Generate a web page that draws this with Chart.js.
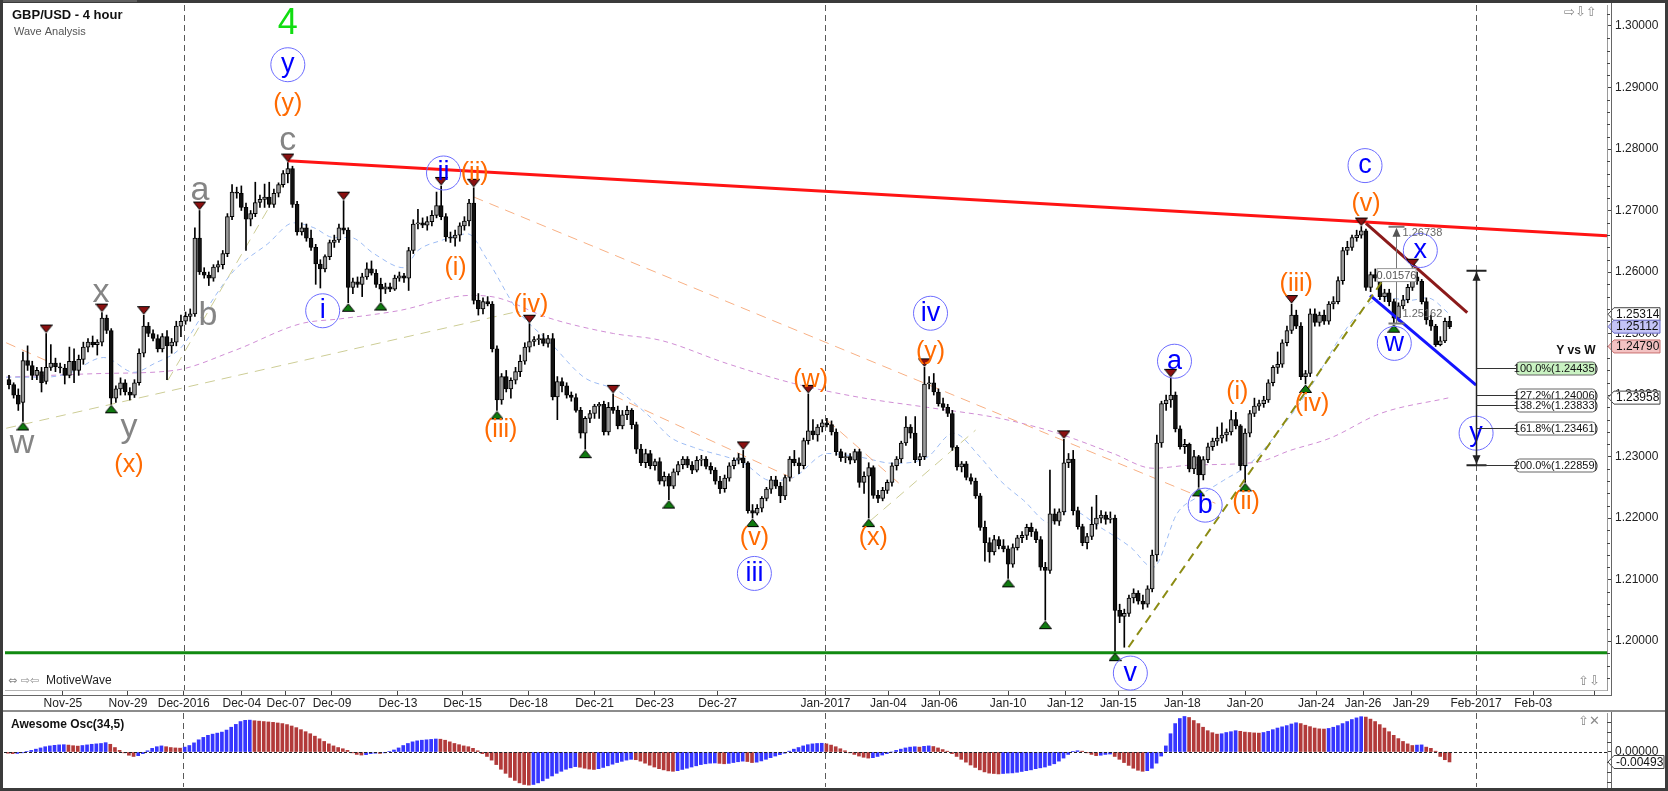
<!DOCTYPE html>
<html>
<head>
<meta charset="utf-8">
<title>GBP/USD - 4 hour</title>
<script src="https://cdn.jsdelivr.net/npm/chart.js@4.4.1/dist/chart.umd.min.js"></script>
<style>
  body { margin: 0; background: #fff; }
  #wrap { position: relative; width: 1668px; height: 791px; overflow: hidden; background: #fff; }
  #priceChart { position: absolute; left: 0; top: 0; }
  #oscChart { position: absolute; left: 0; top: 712px; }
</style>
</head>
<body>
<div id="wrap">
  <canvas id="priceChart" width="1668" height="712"></canvas>
  <canvas id="oscChart" width="1668" height="79"></canvas>
</div>
<script>
// 4-hour bars, index 0 = first bar on the left
const opens = [
  1.2425,1.2417,1.2400,1.2388,1.2456,1.2448,1.2432,1.2438,1.2422,1.2445,
  1.2452,1.2446,1.2444,1.2432,1.2455,1.2440,1.2458,1.2478,1.2486,1.2482,
  1.2486,1.2525,1.2505,1.2395,1.2410,1.2420,1.2405,1.2400,1.2420,1.2468,
  1.2512,1.2500,1.2492,1.2475,1.2495,1.2480,1.2486,1.2512,1.2520,1.2528,
  1.2532,1.2655,1.2600,1.2595,1.2590,1.2608,1.2612,1.2630,1.2690,1.2730,
  1.2728,1.2705,1.2686,1.2695,1.2713,1.2718,1.2722,1.2710,1.2728,1.2742,
  1.2760,1.2768,1.2710,1.2665,1.2672,1.2655,1.2640,1.2613,1.2605,1.2625,
  1.2648,1.2652,1.2672,1.2668,1.2575,1.2584,1.2580,1.2592,1.2605,1.2598,
  1.2580,1.2572,1.2576,1.2572,1.2590,1.2594,1.2590,1.2635,1.2678,1.2680,
  1.2676,1.2682,1.2692,1.2708,1.2690,1.2657,1.2655,1.2660,1.2675,1.2683,
  1.2712,1.2554,1.2540,1.2552,1.2548,1.2475,1.2392,1.2430,1.2410,1.2424,
  1.2438,1.2455,1.2478,1.2487,1.2490,1.2492,1.2484,1.2492,1.2397,1.2422,
  1.2415,1.2400,1.2396,1.2375,1.2338,1.2362,1.2370,1.2382,1.2385,1.2340,
  1.2380,1.2375,1.2350,1.2368,1.2375,1.2352,1.2312,1.2290,1.2305,1.2285,
  1.2292,1.2260,1.2268,1.2252,1.2275,1.2287,1.2296,1.2286,1.2278,1.2294,
  1.2296,1.2284,1.2278,1.2260,1.2248,1.2265,1.2285,1.2294,1.2298,1.2290,
  1.2212,1.2208,1.2216,1.2232,1.2247,1.2262,1.2252,1.2236,1.2266,1.2296,
  1.2290,1.2285,1.2326,1.2342,1.2335,1.2348,1.2355,1.2352,1.2340,1.2308,
  1.2298,1.2300,1.2294,1.2308,1.2258,1.2268,1.2282,1.2237,1.2232,1.2245,
  1.2258,1.2285,1.2296,1.2322,1.2348,1.2338,1.2295,1.2300,1.2418,1.2420,
  1.2405,1.2386,1.2380,1.2370,1.2315,1.2283,1.2288,1.2266,1.2260,1.2236,
  1.2185,1.2160,1.2145,1.2165,1.2155,1.2150,1.2125,1.2152,1.2168,1.2172,
  1.2185,1.2178,1.2165,1.2120,1.2115,1.2207,1.2195,1.2210,1.2290,1.2296,
  1.2212,1.2186,1.2160,1.2170,1.2190,1.2200,1.2205,1.2198,1.2200,1.2050,
  1.2040,1.2045,1.2070,1.2078,1.2065,1.2060,1.2085,1.2140,1.2322,1.2386,
  1.2392,1.2400,1.2345,1.2316,1.2320,1.2280,1.2300,1.2270,1.2295,1.2316,
  1.2325,1.2330,1.2335,1.2340,1.2360,1.2350,1.2285,1.2338,1.2370,1.2382,
  1.2386,1.2392,1.2420,1.2445,1.2450,1.2485,1.2505,1.2530,1.2512,1.2430,
  1.2435,1.2532,1.2518,1.2530,1.2520,1.2548,1.2552,1.2586,1.2635,1.2640,
  1.2656,1.2660,1.2667,1.2575,1.2596,1.2590,1.2560,1.2566,1.2552,1.2525,
  1.2545,1.2555,1.2575,1.2592,1.2585,1.2552,1.2522,1.2512,1.2482,1.2488,1.2520
];
const highs = [
  1.2432,1.2420,1.2410,1.2470,1.2480,1.2455,1.2445,1.2445,1.2500,1.2482,
  1.2460,1.2452,1.2450,1.2478,1.2475,1.2465,1.2486,1.2492,1.2496,1.2490,
  1.2534,1.2530,1.2508,1.2415,1.2428,1.2425,1.2412,1.2425,1.2475,1.2530,
  1.2518,1.2506,1.2498,1.2500,1.2505,1.2492,1.2520,1.2530,1.2535,1.2540,
  1.2672,1.2700,1.2607,1.2600,1.2612,1.2618,1.2635,1.2695,1.2742,1.2738,
  1.2740,1.2712,1.2700,1.2746,1.2725,1.2743,1.2746,1.2735,1.2745,1.2765,
  1.2778,1.2772,1.2715,1.2680,1.2678,1.2668,1.2645,1.2620,1.2628,1.2652,
  1.2660,1.2678,1.2716,1.2672,1.2590,1.2592,1.2598,1.2615,1.2618,1.2604,
  1.2590,1.2582,1.2582,1.2595,1.2600,1.2598,1.2640,1.2685,1.2702,1.2688,
  1.2690,1.2700,1.2730,1.2740,1.2695,1.2665,1.2668,1.2680,1.2690,1.2718,
  1.2737,1.2565,1.2558,1.2560,1.2552,1.2480,1.2435,1.2440,1.2428,1.2445,
  1.2465,1.2485,1.2516,1.2495,1.2498,1.2500,1.2497,1.2500,1.2430,1.2428,
  1.2420,1.2405,1.2402,1.2380,1.2365,1.2375,1.2385,1.2388,1.2390,1.2388,
  1.2402,1.2382,1.2375,1.2382,1.2378,1.2356,1.2320,1.2312,1.2310,1.2296,
  1.2298,1.2275,1.2272,1.2280,1.2292,1.2300,1.2300,1.2292,1.2300,1.2302,
  1.2300,1.2290,1.2282,1.2268,1.2270,1.2290,1.2298,1.2305,1.2310,1.2292,
  1.2222,1.2222,1.2235,1.2250,1.2268,1.2268,1.2258,1.2270,1.2300,1.2310,
  1.2298,1.2330,1.2402,1.2360,1.2352,1.2360,1.2362,1.2358,1.2345,1.2312,
  1.2306,1.2305,1.2312,1.2312,1.2275,1.2290,1.2285,1.2245,1.2250,1.2262,
  1.2290,1.2300,1.2325,1.2365,1.2352,1.2365,1.2305,1.2445,1.2430,1.2435,
  1.2410,1.2395,1.2385,1.2375,1.2318,1.2292,1.2292,1.2272,1.2265,1.2240,
  1.2195,1.2168,1.2172,1.2170,1.2165,1.2155,1.2158,1.2172,1.2178,1.2190,
  1.2192,1.2182,1.2170,1.2128,1.2278,1.2215,1.2215,1.2328,1.2305,1.2310,
  1.2218,1.2190,1.2175,1.2218,1.2237,1.2212,1.2210,1.2210,1.2205,1.2060,
  1.2052,1.2075,1.2085,1.2082,1.2075,1.2090,1.2148,1.2335,1.2390,1.2400,
  1.2428,1.2405,1.2350,1.2328,1.2322,1.2310,1.2302,1.2300,1.2322,1.2330,
  1.2348,1.2355,1.2345,1.2375,1.2372,1.2352,1.2345,1.2375,1.2395,1.2392,
  1.2398,1.2425,1.2448,1.2470,1.2490,1.2512,1.2548,1.2538,1.2518,1.2440,
  1.2540,1.2540,1.2535,1.2538,1.2552,1.2560,1.2592,1.2640,1.2650,1.2660,
  1.2668,1.2674,1.2670,1.2600,1.2605,1.2595,1.2572,1.2572,1.2556,1.2550,
  1.2562,1.2580,1.2607,1.2600,1.2588,1.2558,1.2530,1.2515,1.2495,1.2525,1.2528
];
const lows = [
  1.2410,1.2395,1.2375,1.2357,1.2440,1.2425,1.2425,1.2405,1.2418,1.2440,
  1.2438,1.2436,1.2418,1.2428,1.2420,1.2432,1.2450,1.2470,1.2478,1.2465,
  1.2480,1.2500,1.2385,1.2388,1.2400,1.2400,1.2392,1.2396,1.2416,1.2462,
  1.2495,1.2488,1.2470,1.2470,1.2425,1.2468,1.2480,1.2495,1.2515,1.2520,
  1.2528,1.2596,1.2590,1.2578,1.2585,1.2600,1.2605,1.2625,1.2685,1.2720,
  1.2700,1.2635,1.2675,1.2690,1.2705,1.2705,1.2705,1.2705,1.2722,1.2738,
  1.2745,1.2705,1.2660,1.2660,1.2650,1.2635,1.2580,1.2574,1.2600,1.2620,
  1.2640,1.2648,1.2662,1.2550,1.2565,1.2575,1.2560,1.2588,1.2595,1.2575,
  1.2552,1.2565,1.2568,1.2570,1.2585,1.2583,1.2570,1.2630,1.2670,1.2672,
  1.2668,1.2675,1.2688,1.2685,1.2650,1.2648,1.2642,1.2650,1.2668,1.2675,
  1.2548,1.2530,1.2532,1.2545,1.2470,1.2375,1.2385,1.2405,1.2395,1.2418,
  1.2430,1.2450,1.2470,1.2480,1.2482,1.2480,1.2478,1.2392,1.2360,1.2405,
  1.2395,1.2390,1.2372,1.2330,1.2312,1.2355,1.2362,1.2362,1.2335,1.2335,
  1.2370,1.2345,1.2345,1.2360,1.2345,1.2305,1.2285,1.2282,1.2280,1.2278,
  1.2255,1.2252,1.2230,1.2248,1.2270,1.2280,1.2282,1.2272,1.2275,1.2285,
  1.2280,1.2272,1.2255,1.2240,1.2242,1.2260,1.2280,1.2288,1.2282,1.2208,
  1.2200,1.2205,1.2210,1.2228,1.2240,1.2248,1.2225,1.2230,1.2260,1.2285,
  1.2272,1.2280,1.2320,1.2328,1.2325,1.2340,1.2348,1.2335,1.2302,1.2292,
  1.2290,1.2288,1.2290,1.2250,1.2240,1.2200,1.2232,1.2225,1.2228,1.2240,
  1.2252,1.2278,1.2290,1.2318,1.2330,1.2290,1.2285,1.2295,1.2410,1.2400,
  1.2382,1.2375,1.2365,1.2310,1.2278,1.2275,1.2262,1.2255,1.2232,1.2180,
  1.2130,1.2128,1.2140,1.2150,1.2145,1.2102,1.2120,1.2148,1.2160,1.2165,
  1.2170,1.2160,1.2115,1.2034,1.2110,1.2190,1.2188,1.2205,1.2282,1.2205,
  1.2182,1.2155,1.2150,1.2165,1.2182,1.2192,1.2190,1.2192,1.1982,1.2030,
  1.1990,1.2040,1.2062,1.2060,1.2052,1.2055,1.2080,1.2130,1.2315,1.2375,
  1.2380,1.2340,1.2312,1.2305,1.2275,1.2272,1.2250,1.2262,1.2290,1.2310,
  1.2318,1.2322,1.2325,1.2335,1.2345,1.2278,1.2258,1.2332,1.2365,1.2375,
  1.2380,1.2388,1.2415,1.2435,1.2445,1.2480,1.2500,1.2508,1.2425,1.2418,
  1.2430,1.2512,1.2512,1.2515,1.2515,1.2540,1.2548,1.2580,1.2628,1.2635,
  1.2650,1.2655,1.2570,1.2568,1.2585,1.2555,1.2552,1.2545,1.2516,1.2520,
  1.2540,1.2550,1.2570,1.2580,1.2548,1.2515,1.2505,1.2479,1.2480,1.2485,1.2508
];
const closes = [
  1.2417,1.2400,1.2385,1.2456,1.2448,1.2432,1.2440,1.2420,1.2445,1.2452,
  1.2446,1.2444,1.2432,1.2455,1.2440,1.2458,1.2478,1.2486,1.2482,1.2486,
  1.2525,1.2505,1.2395,1.2410,1.2420,1.2405,1.2400,1.2420,1.2468,1.2512,
  1.2500,1.2492,1.2475,1.2495,1.2480,1.2486,1.2512,1.2520,1.2528,1.2532,
  1.2655,1.2600,1.2595,1.2590,1.2608,1.2612,1.2630,1.2690,1.2730,1.2728,
  1.2705,1.2686,1.2695,1.2713,1.2718,1.2722,1.2710,1.2728,1.2742,1.2760,
  1.2768,1.2710,1.2665,1.2672,1.2655,1.2640,1.2613,1.2605,1.2625,1.2648,
  1.2652,1.2672,1.2668,1.2575,1.2584,1.2580,1.2592,1.2605,1.2598,1.2580,
  1.2572,1.2576,1.2572,1.2590,1.2594,1.2590,1.2635,1.2678,1.2680,1.2676,
  1.2682,1.2692,1.2708,1.2690,1.2657,1.2655,1.2660,1.2675,1.2683,1.2712,
  1.2554,1.2540,1.2552,1.2548,1.2475,1.2392,1.2430,1.2410,1.2424,1.2438,
  1.2455,1.2478,1.2487,1.2490,1.2492,1.2484,1.2492,1.2397,1.2422,1.2415,
  1.2400,1.2396,1.2375,1.2338,1.2362,1.2370,1.2382,1.2385,1.2340,1.2380,
  1.2375,1.2350,1.2368,1.2375,1.2352,1.2312,1.2290,1.2305,1.2285,1.2292,
  1.2260,1.2268,1.2252,1.2275,1.2287,1.2296,1.2286,1.2278,1.2294,1.2296,
  1.2284,1.2278,1.2260,1.2248,1.2265,1.2285,1.2294,1.2298,1.2290,1.2212,
  1.2208,1.2216,1.2232,1.2247,1.2262,1.2252,1.2236,1.2266,1.2296,1.2290,
  1.2285,1.2326,1.2342,1.2335,1.2348,1.2355,1.2352,1.2340,1.2308,1.2298,
  1.2300,1.2294,1.2308,1.2258,1.2268,1.2282,1.2237,1.2232,1.2245,1.2258,
  1.2285,1.2296,1.2322,1.2348,1.2338,1.2295,1.2300,1.2418,1.2420,1.2405,
  1.2386,1.2380,1.2370,1.2315,1.2283,1.2288,1.2266,1.2260,1.2236,1.2185,
  1.2160,1.2145,1.2165,1.2155,1.2150,1.2125,1.2152,1.2168,1.2172,1.2185,
  1.2178,1.2165,1.2120,1.2115,1.2207,1.2195,1.2210,1.2290,1.2296,1.2212,
  1.2186,1.2160,1.2170,1.2190,1.2200,1.2205,1.2198,1.2200,1.2050,1.2040,
  1.2045,1.2070,1.2078,1.2065,1.2060,1.2085,1.2140,1.2322,1.2386,1.2392,
  1.2400,1.2345,1.2316,1.2320,1.2280,1.2300,1.2270,1.2295,1.2316,1.2325,
  1.2330,1.2335,1.2340,1.2360,1.2350,1.2285,1.2338,1.2370,1.2382,1.2386,
  1.2392,1.2420,1.2445,1.2450,1.2485,1.2505,1.2530,1.2512,1.2430,1.2435,
  1.2532,1.2518,1.2530,1.2520,1.2548,1.2552,1.2586,1.2635,1.2640,1.2656,
  1.2660,1.2667,1.2575,1.2596,1.2590,1.2560,1.2566,1.2552,1.2525,1.2545,
  1.2555,1.2575,1.2592,1.2585,1.2552,1.2522,1.2512,1.2482,1.2488,1.2520,1.2511
];
// Awesome Osc(34,5), one value per bar
const aoValues = [
  -0.0006,-0.0008,-0.0007,-0.0004,0.0002,0.0008,0.0014,0.0020,0.0026,0.0030,
  0.0033,0.0035,0.0036,0.0034,0.0031,0.0029,0.0032,0.0035,0.0038,0.0040,
  0.0042,0.0046,0.0038,0.0022,0.0008,-0.0004,-0.0016,-0.0022,-0.0018,-0.0008,
  0.0006,0.0018,0.0026,0.0030,0.0026,0.0022,0.0020,0.0019,0.0024,0.0032,
  0.0045,0.0060,0.0072,0.0082,0.0088,0.0093,0.0098,0.0108,0.0122,0.0136,
  0.0150,0.0156,0.0157,0.0154,0.0152,0.0150,0.0148,0.0146,0.0143,0.0140,
  0.0135,0.0128,0.0120,0.0110,0.0100,0.0090,0.0078,0.0065,0.0052,0.0040,
  0.0030,0.0022,0.0016,0.0008,-0.0004,-0.0012,-0.0015,-0.0013,-0.0008,-0.0006,
  -0.0007,-0.0004,0.0002,0.0010,0.0020,0.0032,0.0042,0.0050,0.0055,0.0058,
  0.0060,0.0062,0.0064,0.0063,0.0058,0.0050,0.0042,0.0036,0.0030,0.0026,
  0.0018,0.0006,-0.0008,-0.0022,-0.0040,-0.0062,-0.0085,-0.0105,-0.0125,-0.0140,
  -0.0152,-0.0160,-0.0163,-0.0160,-0.0152,-0.0142,-0.0130,-0.0118,-0.0105,-0.0095,
  -0.0085,-0.0078,-0.0072,-0.0075,-0.0080,-0.0084,-0.0086,-0.0082,-0.0076,-0.0068,
  -0.0060,-0.0052,-0.0046,-0.0040,-0.0036,-0.0038,-0.0045,-0.0055,-0.0065,-0.0074,
  -0.0082,-0.0088,-0.0093,-0.0095,-0.0092,-0.0086,-0.0080,-0.0074,-0.0068,-0.0062,
  -0.0058,-0.0055,-0.0054,-0.0056,-0.0058,-0.0056,-0.0052,-0.0048,-0.0045,-0.0047,
  -0.0052,-0.0050,-0.0044,-0.0036,-0.0028,-0.0020,-0.0013,-0.0006,0.0004,0.0014,
  0.0022,0.0030,0.0036,0.0040,0.0042,0.0043,0.0040,0.0034,0.0026,0.0016,
  0.0006,-0.0004,-0.0012,-0.0020,-0.0026,-0.0030,-0.0028,-0.0022,-0.0015,-0.0008,
  0.0000,0.0008,0.0014,0.0020,0.0024,0.0026,0.0024,0.0028,0.0030,0.0027,
  0.0020,0.0012,0.0004,-0.0008,-0.0022,-0.0036,-0.0050,-0.0064,-0.0076,-0.0088,
  -0.0098,-0.0104,-0.0106,-0.0108,-0.0106,-0.0104,-0.0103,-0.0100,-0.0096,-0.0092,
  -0.0088,-0.0082,-0.0078,-0.0074,-0.0066,-0.0058,-0.0045,-0.0030,-0.0012,0.0003,
  0.0006,0.0004,-0.0004,-0.0012,-0.0018,-0.0016,-0.0012,-0.0010,-0.0022,-0.0036,
  -0.0052,-0.0066,-0.0080,-0.0090,-0.0095,-0.0092,-0.0080,-0.0055,-0.0020,0.0030,
  0.0090,0.0140,0.0165,0.0175,0.0170,0.0155,0.0140,0.0122,0.0105,0.0095,
  0.0088,0.0090,0.0096,0.0100,0.0105,0.0102,0.0098,0.0096,0.0094,0.0093,
  0.0096,0.0102,0.0110,0.0118,0.0124,0.0130,0.0138,0.0144,0.0140,0.0132,
  0.0125,0.0118,0.0114,0.0113,0.0116,0.0122,0.0130,0.0140,0.0150,0.0160,
  0.0168,0.0174,0.0172,0.0162,0.0150,0.0135,0.0118,0.0100,0.0082,0.0066,
  0.0052,0.0040,0.0032,0.0034,0.0035,0.0024,0.0018,0.0004,-0.0022,-0.0038,-0.0049
];

// moving averages, read as [bar index, price]
const maFastPts = [[-0.6,1.2429],[7.5,1.2429],[12.7,1.2435],[20.4,1.2461],[26.9,1.2437],[31.2,1.2451],[37,1.2477],[41.3,1.2526],
  [48.4,1.2602],[55.7,1.2646],[61.3,1.2680],[65.6,1.2672],[69.9,1.2656],[73.5,1.2656],[78.5,1.2630],[84.9,1.2607],[88,1.2635],
  [92.9,1.2651],[98.7,1.2662],[103,1.2619],[109.5,1.2537],[116.6,1.2484],[123.7,1.2429],[131,1.2407],[138,1.2364],[142.4,1.2331],
  [147.3,1.2315],[158.1,1.2289],[163.9,1.2261],[168.8,1.2266],[176.1,1.2305],[183.2,1.2299],[190.3,1.2289],[197.6,1.2299],
  [203.2,1.2338],[209,1.2299],[213.3,1.2261],[218.3,1.2229],[224.1,1.2192],[228.4,1.2213],[234.8,1.2185],[241.3,1.2153],
  [246.2,1.2120],[251.4,1.2208],[255.7,1.2234],[261.3,1.2261],[267.1,1.2289],[272.9,1.2338],[280,1.2412],[286.5,1.2494],
  [292,1.2545],[296.6,1.2558],[301.5,1.2554],[305.2,1.2558],[310.1,1.2531]];
const maSlowPts = [[-0.6,1.2429],[19.8,1.2435],[35.5,1.2440],[48.4,1.2472],[62.8,1.2516],[71.4,1.2524],[83.7,1.2537],[99.4,1.2562],
  [105.2,1.2558],[115.9,1.2526],[130.1,1.2500],[140.2,1.2489],[154.6,1.2451],[168.8,1.2419],[183.2,1.2396],[197.6,1.2380],
  [213.3,1.2362],[225.6,1.2338],[237.6,1.2305],[246.2,1.2281],[254.2,1.2286],[268.6,1.2291],[275.7,1.2310],[284.3,1.2330],
  [295.1,1.2370],[310.1,1.2396]];

// trend lines, [bar index, price] end points
const resistanceLine = [[60,1.2781],[343.87,1.2659]];
const supportLine = [[-0.86,1.1981],[343.87,1.1981]];
const channelTopLine = [[292,1.2679],[313.8,1.2534]];
const channelBottomLine = [[292.9,1.2562],[315.7,1.2416]];
const riseLine = [[240.9,1.1990],[296.6,1.2597]];
const orangeLines = [[[100,1.2722],[259.6,1.2224]], [[130.1,1.2399],[169.7,1.2261]], [[176.1,1.2359],[192.5,1.2250]], [[-0.6,1.2485],[8,1.2456]]];
const khakiLines = [[[-0.6,1.2346],[108.4,1.2534]], [[34.2,1.2424],[60.6,1.2765]], [[185.4,1.2196],[208,1.2343]]];

const pivotHighIdx = [8, 20, 29, 41, 60, 72, 93, 100, 112, 130, 158, 172, 197, 227, 250, 276, 291, 302];
const pivotLowIdx = [3, 22, 73, 80, 105, 124, 142, 160, 185, 215, 223, 238, 256, 266, 279, 298];

// wave labels: [bar index, price, text, kind]
const waveLabels = [
  [60,1.3003,'4','green'], [60,1.2937,'y','circle'], [60,1.2873,'(y)','orange'], [60,1.2813,'c','grey'],
  [2.8,1.2321,'w','grey'], [19.8,1.2567,'x','grey'], [25.8,1.2347,'y','grey'], [25.8,1.2286,'(x)','orange'],
  [41.1,1.2732,'a','grey'], [42.8,1.2529,'b','grey'], [67.5,1.2537,'i','circle'],
  [93.5,1.2761,'ii','circle'], [100.2,1.2760,'(ii)','orange'], [96.1,1.2606,'(i)','orange'],
  [105.8,1.2343,'(iii)','orange'], [112.3,1.2546,'(iv)','orange'], [160.4,1.2167,'(v)','orange'],
  [160.4,1.2110,'iii','circle'], [172.5,1.2424,'(w)','orange'], [186,1.2167,'(x)','orange'],
  [198.3,1.2469,'(y)','orange'], [198.3,1.2533,'iv','circle'], [241.3,1.1948,'v','circle'],
  [250.8,1.2455,'a','circle'], [257.4,1.2221,'b','circle'], [264.3,1.2404,'(i)','orange'],
  [266.2,1.2226,'(ii)','orange'], [277,1.2581,'(iii)','orange'], [280.4,1.2386,'(iv)','orange'],
  [292,1.2711,'(v)','orange'], [291.8,1.2773,'c','circle'], [303.7,1.2635,'x','circle'],
  [298.1,1.2484,'w','circle'], [315.7,1.2338,'y','circle']
];

// Fibonacci projection "Y vs W"
const fibIdx = 315.7;
const fibTop = 1.2602, fibBottom = 1.2286;
const fibPct = ['100.0%', '127.2%', '138.2%', '161.8%', '200.0%'];
const fibPrice = [1.24435, 1.24006, 1.23833, 1.23461, 1.22859];

// price measure from w low to c high
const measureIdx = 298.5;
const measureLow = 1.25162, measureHigh = 1.26738;

// right axis price tags
const tagPrices = [1.25314, 1.25112, 1.24790, 1.23958];
const tagKinds = ['plain', 'last', 'low', 'plain'];
const aoTagValue = -0.00493;

const priceTicks = [1.20, 1.21, 1.22, 1.23, 1.24, 1.25, 1.26, 1.27, 1.28, 1.29, 1.30];
const dateTickIdx = [11.6, 25.6, 37.6, 50.1, 59.6, 69.5, 83.7, 97.6, 111.8, 126, 138.9, 152.5, 175.7, 189.2, 200.2,
  215, 227.3, 238.7, 252.5, 266, 281.3, 291.4, 301.7, 315.7, 328, 341.1];
const dateTickLabel = ['Nov-25', 'Nov-29', 'Dec-2016', 'Dec-04', 'Dec-07', 'Dec-09', 'Dec-13', 'Dec-15', 'Dec-18', 'Dec-21',
  'Dec-23', 'Dec-27', 'Jan-2017', 'Jan-04', 'Jan-06', 'Jan-10', 'Jan-12', 'Jan-15', 'Jan-18', 'Jan-20', 'Jan-24',
  'Jan-26', 'Jan-29', 'Feb-2017', 'Feb-03', ''];
const monthLineIdx = [37.6, 175.7, 315.7];

const FONT = '"Liberation Sans", Arial, Helvetica, sans-serif';
Chart.defaults.font.family = FONT;

const X_MIN = -0.86, X_MAX = 343.87;
const PRICE_MIN = 1.19205, PRICE_MAX = 1.30341;
const AO_MIN = -0.01724, AO_MAX = 0.01921;
const W = 1668;

const barIdx = closes.map((_, i) => i);

function triangleMarker(fill, pointingDown) {
  const c = document.createElement('canvas');
  c.width = 13; c.height = 20;
  const g = c.getContext('2d');
  g.beginPath();
  if (pointingDown) { g.moveTo(0.5, 1.5); g.lineTo(12.5, 1.5); g.lineTo(6.5, 9); }
  else { g.moveTo(6.5, 11); g.lineTo(12.5, 18.5); g.lineTo(0.5, 18.5); }
  g.closePath();
  g.fillStyle = fill; g.fill();
  g.strokeStyle = '#000'; g.lineWidth = 1; g.stroke();
  return c;
}

function lineSet(pts, color, width, dash, order, smooth) {
  return {
    type: 'line', data: pts.map(([x, y]) => ({ x, y })),
    borderColor: color, borderWidth: width, borderDash: dash || [],
    pointRadius: 0, fill: false, order,
    cubicInterpolationMode: smooth ? 'monotone' : 'default', tension: 0
  };
}

// keep the axes from reserving extra room for half tick labels
function noLabelPadding(s) {
  s.paddingTop = 0; s.paddingBottom = 0; s.paddingLeft = 0; s.paddingRight = 0;
}

function monthLines(chart) {
  const { ctx, chartArea: a, scales: { x } } = chart;
  ctx.save();
  ctx.strokeStyle = '#5a5a5a';
  ctx.lineWidth = 1;
  ctx.setLineDash([6, 4]);
  monthLineIdx.forEach(i => {
    const xx = Math.round(x.getPixelForValue(i)) + 0.5;
    ctx.beginPath(); ctx.moveTo(xx, a.top); ctx.lineTo(xx, a.bottom); ctx.stroke();
  });
  ctx.restore();
}

function priceTag(ctx, tipX, yy, text, fill, stroke, w) {
  ctx.beginPath();
  ctx.moveTo(tipX, yy);
  ctx.lineTo(tipX + 6, yy - 6.5);
  ctx.lineTo(tipX + w, yy - 6.5);
  ctx.lineTo(tipX + w, yy + 6.5);
  ctx.lineTo(tipX + 6, yy + 6.5);
  ctx.closePath();
  ctx.fillStyle = fill; ctx.fill();
  ctx.strokeStyle = stroke; ctx.lineWidth = 1; ctx.stroke();
  ctx.fillStyle = '#111';
  ctx.font = '12px ' + FONT;
  ctx.textAlign = 'left';
  ctx.textBaseline = 'middle';
  ctx.fillText(text, tipX + 8, yy + 0.5);
}

const priceDecor = {
  id: 'priceDecor',
  beforeDatasetsDraw(chart) { monthLines(chart); },
  afterDatasetsDraw(chart) {
    const { ctx, scales: { x, y } } = chart;
    ctx.save();
    ctx.textAlign = 'center';
    ctx.textBaseline = 'middle';
    waveLabels.forEach(([i, p, t, kind]) => {
      const cx = x.getPixelForValue(i), cy = y.getPixelForValue(p);
      if (kind === 'circle') {
        ctx.beginPath(); ctx.arc(cx, cy, 17, 0, Math.PI * 2);
        ctx.strokeStyle = '#6c6cff'; ctx.lineWidth = 1; ctx.stroke();
        ctx.fillStyle = '#0000ff'; ctx.font = '27px ' + FONT;
        ctx.fillText(t, cx, cy);
      } else if (kind === 'orange') {
        ctx.fillStyle = '#ff6a00'; ctx.font = '25px ' + FONT;
        ctx.fillText(t, cx, cy);
      } else if (kind === 'grey') {
        ctx.fillStyle = '#858585'; ctx.font = '34px ' + FONT;
        ctx.fillText(t, cx, cy);
      } else {
        ctx.fillStyle = '#11dd11'; ctx.font = '36px ' + FONT;
        ctx.fillText(t, cx, cy);
      }
    });

    // Y vs W projection
    const fx = Math.round(x.getPixelForValue(fibIdx)) + 0.5;
    const ft = y.getPixelForValue(fibTop), fb = y.getPixelForValue(fibBottom);
    ctx.strokeStyle = '#222'; ctx.fillStyle = '#222'; ctx.lineWidth = 1.5;
    ctx.beginPath(); ctx.moveTo(fx, ft); ctx.lineTo(fx, fb); ctx.stroke();
    ctx.lineWidth = 2;
    ctx.beginPath(); ctx.moveTo(fx - 10, ft); ctx.lineTo(fx + 10, ft); ctx.moveTo(fx - 10, fb); ctx.lineTo(fx + 10, fb); ctx.stroke();
    ctx.beginPath(); ctx.moveTo(fx, ft + 1); ctx.lineTo(fx - 4, ft + 10); ctx.lineTo(fx + 4, ft + 10); ctx.closePath(); ctx.fill();
    ctx.beginPath(); ctx.moveTo(fx, fb - 1); ctx.lineTo(fx - 4, fb - 10); ctx.lineTo(fx + 4, fb - 10); ctx.closePath(); ctx.fill();
    ctx.lineWidth = 1;
    fibPrice.forEach((p, k) => {
      const ly = Math.round(y.getPixelForValue(p)) + 0.5;
      ctx.strokeStyle = '#333';
      ctx.beginPath(); ctx.moveTo(fx, ly); ctx.lineTo(fx + 40, ly); ctx.stroke();
      ctx.beginPath(); ctx.roundRect(fx + 40, ly - 6.5, 79, 13, 3);
      ctx.fillStyle = k === 0 ? '#c9f2c2' : '#ffffff'; ctx.fill();
      ctx.strokeStyle = '#666'; ctx.stroke();
      ctx.fillStyle = '#111'; ctx.font = '11px ' + FONT;
      ctx.fillText(fibPct[k] + '(' + p.toFixed(5) + ')', fx + 79.5, ly + 0.5);
    });
    ctx.textAlign = 'right';
    ctx.font = 'bold 12px ' + FONT;
    ctx.fillStyle = '#111';
    ctx.fillText('Y vs W', fx + 119, y.getPixelForValue(fibPrice[0]) - 18);

    // measure tool
    const mx = Math.round(x.getPixelForValue(measureIdx)) + 0.5;
    const ml = y.getPixelForValue(measureLow), mh = y.getPixelForValue(measureHigh);
    ctx.strokeStyle = '#777'; ctx.lineWidth = 1;
    ctx.beginPath(); ctx.moveTo(mx, ml); ctx.lineTo(mx, mh + 6); ctx.stroke();
    ctx.lineWidth = 2;
    ctx.beginPath(); ctx.moveTo(mx - 8, ml); ctx.lineTo(mx + 8, ml); ctx.moveTo(mx - 8, mh); ctx.lineTo(mx + 8, mh); ctx.stroke();
    ctx.fillStyle = '#555';
    ctx.beginPath(); ctx.moveTo(mx, mh + 1); ctx.lineTo(mx - 4, mh + 10); ctx.lineTo(mx + 4, mh + 10); ctx.closePath(); ctx.fill();
    ctx.font = '11px ' + FONT; ctx.textAlign = 'left'; ctx.fillStyle = '#666';
    ctx.fillText(measureHigh.toFixed(5), mx + 6, mh + 6);
    ctx.fillText(measureLow.toFixed(5), mx + 6, ml - 10);
    const midY = (ml + mh) / 2;
    ctx.lineWidth = 1;
    ctx.fillStyle = '#fff'; ctx.fillRect(mx - 19.5, midY - 6.5, 39, 13);
    ctx.strokeStyle = '#999'; ctx.strokeRect(mx - 19.5, midY - 6.5, 39, 13);
    ctx.fillStyle = '#555'; ctx.textAlign = 'center';
    ctx.fillText((measureHigh - measureLow).toFixed(5), mx, midY + 0.5);
    ctx.restore();
  },
  afterDraw(chart) {
    const { ctx, chartArea: a, scales: { y } } = chart;
    ctx.save();
    // y axis minor ticks
    ctx.strokeStyle = '#444'; ctx.lineWidth = 1;
    for (let k = 0; k <= 56; k++) {
      if ((k - 4) % 5 === 0) continue;
      const v = 1.192 + k * 0.002;
      if (v < PRICE_MIN || v > PRICE_MAX) continue;
      const ty = Math.round(y.getPixelForValue(v)) + 0.5;
      ctx.beginPath(); ctx.moveTo(a.right, ty); ctx.lineTo(a.right + 3, ty); ctx.stroke();
    }
    // price tags
    tagPrices.forEach((p, k) => {
      const ty = y.getPixelForValue(p);
      const kind = tagKinds[k];
      const fill = kind === 'last' ? '#c4c4f6' : kind === 'low' ? '#f3c2c2' : '#ffffff';
      const stroke = kind === 'last' ? '#6a6ac8' : kind === 'low' ? '#c87070' : '#444';
      priceTag(ctx, a.right + 1, ty, p.toFixed(5), fill, stroke, 52);
    });
    // frame
    ctx.fillStyle = '#3b3b3b';
    ctx.fillRect(0, 0, W, 3);
    ctx.fillRect(0, 0, 3, 712);
    ctx.fillRect(W - 3, 0, 3, 712);
    ctx.fillStyle = '#5e5e5e';
    ctx.fillRect(3, 0, 134, 2);
    ctx.fillStyle = '#666';
    ctx.fillRect(3, 695, 1609, 1);
    ctx.fillRect(1611, 3, 1, 692);
    ctx.fillStyle = '#8c8c8c';
    ctx.fillRect(3, 710, W - 6, 2);
    // titles
    ctx.textAlign = 'left'; ctx.textBaseline = 'middle';
    ctx.fillStyle = '#111'; ctx.font = 'bold 13px ' + FONT;
    ctx.fillText('GBP/USD - 4 hour', 12, 15);
    ctx.fillStyle = '#555'; ctx.font = '11px ' + FONT;
    ctx.fillText('Wave Analysis', 14, 32);
    ctx.fillStyle = '#222'; ctx.font = '12px ' + FONT;
    ctx.fillText('MotiveWave', 46, 681);
    ctx.fillStyle = '#8a8a8a'; ctx.font = '11px "DejaVu Sans", sans-serif';
    ctx.fillText('\u21D4 \u21E8\u21E6', 8, 681);
    ctx.font = '13px "DejaVu Sans", sans-serif';
    ctx.fillText('\u21E8\u21E9\u21E7', 1564, 13);
    ctx.fillText('\u21E7\u21E9', 1578, 682);
    ctx.restore();
  }
};

new Chart(document.getElementById('priceChart'), {
  type: 'bar',
  data: {
    datasets: [
      lineSet(maSlowPts, '#d08ed5', 1, [5, 4], 20, true),
      lineSet(maFastPts, '#9dbcf4', 1, [5, 4], 19, true),
      ...orangeLines.map(l => lineSet(l, '#f8b084', 1, [10, 7], 18)),
      ...khakiLines.map(l => lineSet(l, '#cdcd96', 1, [10, 7], 18)),
      {
        type: 'bar', data: barIdx.map(i => ({ x: i, y: [lows[i], highs[i]] })),
        backgroundColor: '#000', barThickness: 1, grouped: false, order: 6
      },
      {
        type: 'bar', data: barIdx.map(i => ({ x: i, y: [opens[i], closes[i]] })),
        backgroundColor: c => closes[c.dataIndex] >= opens[c.dataIndex] ? '#9a9a9a' : '#111',
        borderColor: '#000', borderWidth: 1, borderSkipped: false,
        barThickness: 4, minBarLength: 1, grouped: false, order: 5
      },
      lineSet(supportLine, '#118a11', 3, null, 4),
      lineSet(resistanceLine, '#ff1414', 3, null, 4),
      lineSet(riseLine, '#8c8c14', 2, [9, 6], 3),
      lineSet(channelTopLine, '#8b1a1a', 3, null, 3),
      lineSet(channelBottomLine, '#1414ff', 3, null, 3),
      {
        type: 'line', showLine: false, data: pivotHighIdx.map(i => ({ x: i, y: highs[i] })),
        pointStyle: triangleMarker('#8a1010', true), pointRadius: 4, order: 1
      },
      {
        type: 'line', showLine: false, data: pivotLowIdx.map(i => ({ x: i, y: lows[i] })),
        pointStyle: triangleMarker('#0f7a0f', false), pointRadius: 4, order: 1
      }
    ]
  },
  options: {
    responsive: false, devicePixelRatio: 1, animation: false,
    layout: { padding: { left: 4, right: 3, top: 4, bottom: 0 } },
    plugins: { legend: { display: false }, tooltip: { enabled: false } },
    scales: {
      x: {
        type: 'linear', min: X_MIN, max: X_MAX, offset: false,
        grid: { drawOnChartArea: false, tickLength: 5, color: '#444', offset: false },
        border: { color: '#b4b4b4' },
        afterBuildTicks: s => { s.ticks = dateTickIdx.map(v => ({ value: v })); },
        afterFit: s => { s.height = 22; noLabelPadding(s); },
        ticks: {
          autoSkip: false, maxRotation: 0, minRotation: 0, padding: 1, color: '#222',
          font: { size: 12 }, callback: (v, k) => dateTickLabel[k]
        }
      },
      y: {
        type: 'linear', position: 'right', min: PRICE_MIN, max: PRICE_MAX, beginAtZero: false,
        afterBuildTicks: s => { s.ticks = priceTicks.map(v => ({ value: v })); },
        afterFit: s => { s.width = 58; noLabelPadding(s); },
        grid: { drawOnChartArea: false, tickLength: 5, color: '#444' },
        border: { color: '#9a9a9a' },
        ticks: { padding: 3, color: '#222', font: { size: 12 }, callback: v => v.toFixed(5) }
      }
    }
  },
  plugins: [priceDecor]
});

const AO_UP = '#3636ff', AO_DOWN = '#b23a3a';

const oscDecor = {
  id: 'oscDecor',
  beforeDatasetsDraw(chart) { monthLines(chart); },
  afterDatasetsDraw(chart) {
    const { ctx, chartArea: a, scales: { y } } = chart;
    ctx.save();
    const zy = Math.round(y.getPixelForValue(0)) + 0.5;
    ctx.strokeStyle = '#222'; ctx.lineWidth = 1; ctx.setLineDash([3, 2]);
    ctx.beginPath(); ctx.moveTo(a.left, zy); ctx.lineTo(a.right, zy); ctx.stroke();
    ctx.restore();
  },
  afterDraw(chart) {
    const { ctx, chartArea: a, scales: { y } } = chart;
    ctx.save();
    ctx.strokeStyle = '#444'; ctx.lineWidth = 1;
    [-0.015, -0.01, -0.005, 0.005, 0.01, 0.015].forEach(v => {
      const ty = Math.round(y.getPixelForValue(v)) + 0.5;
      ctx.beginPath(); ctx.moveTo(a.right, ty); ctx.lineTo(a.right + 4, ty); ctx.stroke();
    });
    priceTag(ctx, a.right + 1, y.getPixelForValue(aoTagValue), aoTagValue.toFixed(5), '#ffffff', '#444', 56);
    ctx.fillStyle = '#3b3b3b';
    ctx.fillRect(0, 0, 3, 79);
    ctx.fillRect(W - 3, 0, 3, 79);
    ctx.fillRect(0, 76, W, 3);
    ctx.fillStyle = '#666';
    ctx.fillRect(1611, 0, 1, 76);
    ctx.textAlign = 'left'; ctx.textBaseline = 'middle';
    ctx.fillStyle = '#111'; ctx.font = 'bold 12px ' + FONT;
    ctx.fillText('Awesome Osc(34,5)', 11, 13);
    ctx.fillStyle = '#8a8a8a'; ctx.font = '13px "DejaVu Sans", sans-serif';
    ctx.fillText('\u21E7\u2715', 1578, 10);
    ctx.restore();
  }
};

new Chart(document.getElementById('oscChart'), {
  type: 'bar',
  data: {
    datasets: [{
      data: barIdx.map(i => ({ x: i, y: aoValues[i] })),
      backgroundColor: c => (c.dataIndex > 0 && aoValues[c.dataIndex] > aoValues[c.dataIndex - 1]) ? AO_UP : AO_DOWN,
      barThickness: 3, grouped: false
    }]
  },
  options: {
    responsive: false, devicePixelRatio: 1, animation: false,
    layout: { padding: { left: 4, right: 3, top: 1, bottom: 4 } },
    plugins: { legend: { display: false }, tooltip: { enabled: false } },
    scales: {
      x: { type: 'linear', min: X_MIN, max: X_MAX, offset: false, display: false },
      y: {
        type: 'linear', position: 'right', min: AO_MIN, max: AO_MAX, beginAtZero: false,
        afterBuildTicks: s => { s.ticks = [{ value: 0 }]; },
        afterFit: s => { s.width = 58; noLabelPadding(s); },
        grid: { drawOnChartArea: false, tickLength: 5, color: '#444' },
        border: { color: '#9a9a9a' },
        ticks: { padding: 3, color: '#222', font: { size: 12 }, callback: v => v.toFixed(5) }
      }
    }
  },
  plugins: [oscDecor]
});
</script>
</body>
</html>
